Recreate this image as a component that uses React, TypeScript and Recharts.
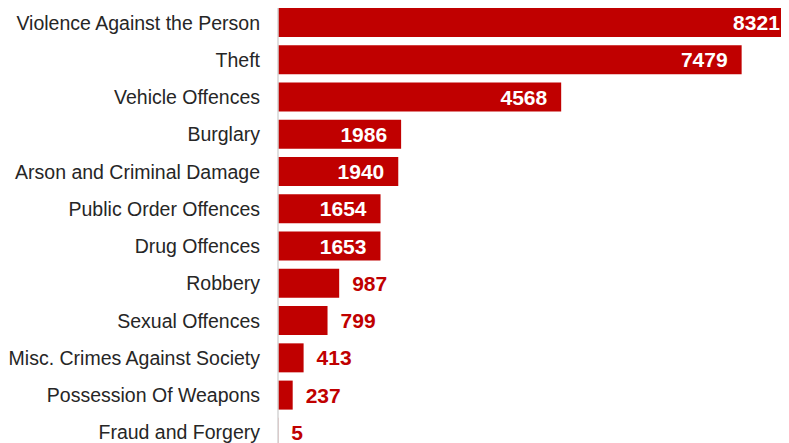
import React from "react";
import { BarChart, Bar, XAxis, YAxis, LabelList } from "recharts";

const categories = [
  "Violence Against the Person",
  "Theft",
  "Vehicle Offences",
  "Burglary",
  "Arson and Criminal Damage",
  "Public Order Offences",
  "Drug Offences",
  "Robbery",
  "Sexual Offences",
  "Misc. Crimes Against Society",
  "Possession Of Weapons",
  "Fraud and Forgery",
];

const counts = [8321, 7479, 4568, 1986, 1940, 1654, 1653, 987, 799, 413, 237, 5];

const data = categories.map((name, i) => ({ name, value: counts[i] }));

const RED = "#c00000";
const FONT = "'Liberation Sans', Arial, sans-serif";

const renderLabel = (props: any) => {
  const { x, y, width, height, value } = props;
  const cy = Number(y) + Number(height) / 2;
  const end = Number(x) + Number(width);
  const inside = Number(value) >= 1000;
  return (
    <text
      x={inside ? end - 14 : end + 13}
      y={cy}
      dy="0.36em"
      textAnchor={inside ? "end" : "start"}
      fill={inside ? "#ffffff" : RED}
      fontFamily={FONT}
      fontWeight="bold"
      fontSize={21}
    >
      {value}
    </text>
  );
};

export default function App() {
  return (
    <div style={{ margin: "-8px 0 0 -8px", width: 789, height: 451 }}>
      <BarChart
        width={789}
        height={451}
        data={data}
        layout="vertical"
        margin={{ top: 4, right: 7, bottom: 0, left: 0 }}
        barCategoryGap="11%"
      >
        <XAxis type="number" hide domain={[0, 8130]} allowDataOverflow />
        <YAxis
          type="category"
          dataKey="name"
          width={278}
          axisLine={{ stroke: "#d4d4d4", strokeWidth: 1.5 }}
          tickLine={false}
          tickSize={0}
          tickMargin={18}
          interval={0}
          tick={{ fill: "#262626", fontSize: 19.5, fontFamily: FONT }}
        />
        <Bar dataKey="value" fill={RED} isAnimationActive={false}>
          <LabelList dataKey="value" content={renderLabel} />
        </Bar>
      </BarChart>
    </div>
  );
}
